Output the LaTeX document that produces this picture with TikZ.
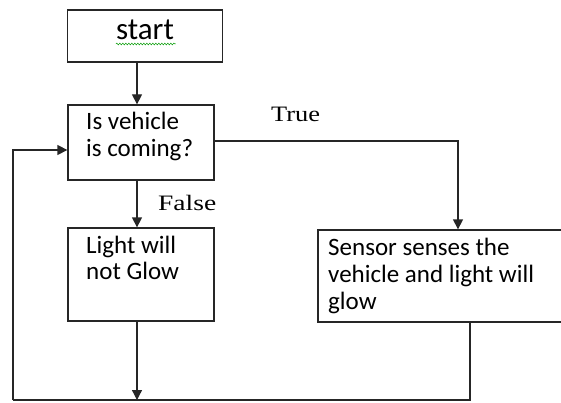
\documentclass[tikz,border=0pt]{standalone}
\usepackage{fontspec}
\setmainfont{Carlito}
\newfontfamily\labfont{Liberation Serif}
\usetikzlibrary{arrows.meta,decorations.pathmorphing}
\begin{document}
\begin{tikzpicture}[x=1pt,y=-1pt,
  box/.style={draw=black!85,line width=1.3pt,rectangle,inner sep=0pt},
  txt/.style={anchor=base west,inner sep=0pt,font=\fontsize{25}{27}\selectfont,align=left},
  lab/.style={inner sep=0pt,anchor=base west,font=\labfont\fontsize{22}{24}\selectfont},
  conn/.style={draw=black!85,line width=1.3pt},
  arr/.style={conn,-{Triangle[length=10pt,width=10pt]}}]
\useasboundingbox (0,0) rectangle (561,403);
\clip (0,0) rectangle (561,403);
% boxes
\node[box,minimum width=155pt,minimum height=52pt] (start) at (145,36) {};
\node[box,minimum width=146pt,minimum height=75pt] (dec) at (141,142.5) {};
\node[box,minimum width=146pt,minimum height=93pt] (light) at (141,274.5) {};
\node[box,minimum width=250pt,minimum height=92pt] (sensor) at (443,276) {};
% texts (anchored at the baseline of the last line)
\node[inner sep=0pt,anchor=base,font=\fontsize{31}{33}\selectfont] (starttxt) at (145,40) {start};
\draw[green!60!black,line width=0.5pt,decoration={snake,amplitude=0.9pt,segment length=3pt},decorate] (starttxt.base west) ++(0,4) -- ++(60,0);
\node[txt] (dectxt) at (86,157) {Is vehicle\\is coming?};
\node[txt,font=\fontsize{25}{26}\selectfont] (lighttxt) at (86,279) {Light will\\not Glow};
\node[txt] (sensortxt) at (328,309) {Sensor senses the\\vehicle and light will\\glow};
\node[lab] (truelab) at (271,122) {\scalebox{1.2}[1]{True}};
\node[lab] (falselab) at (158,210) {\scalebox{1.25}[1]{False}};
% helper coordinates
\coordinate (ax) at (137,0);
\coordinate (tr) at (458,141);
\coordinate (bl) at (13,400);
\coordinate (br) at (470,400);
\coordinate (la) at (13,150);
% connectors
\draw[arr] (start.south -| ax) -- (dec.north -| ax);
\draw[arr] (dec.south -| ax) -- (light.north -| ax);
\draw[arr] (tr -| dec.east) -- (tr) -- (sensor.north -| tr);
\draw[arr] (light.south -| ax) -- (bl -| ax);
\draw[conn] (sensor.south -| br) -- (br) -- (bl);
\draw[arr] (bl) -- (la) -- (la -| dec.west);
\end{tikzpicture}
\end{document}
